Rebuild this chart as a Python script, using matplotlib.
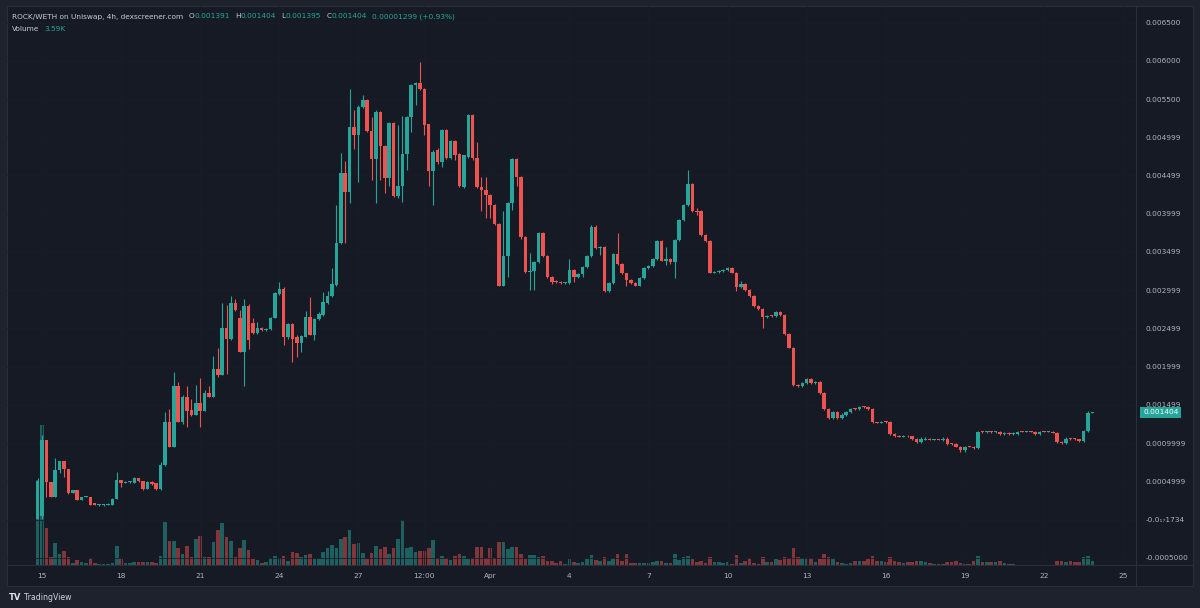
import matplotlib
matplotlib.use("Agg")
import matplotlib.pyplot as plt
import matplotlib.dates as mdates
import matplotlib.transforms as mtransforms
from matplotlib.patches import Rectangle
import numpy as np
import pandas as pd

# ROCK/WETH 4h candles, prices in millionths of WETH (1404 -> 0.001404)
first_candle = "2024-03-14 20:00"

opens = [
    13, 40, 1046, 497, 301, 654, 759, 667, 353, 392,
    249, 301, 301, 222, 196, 196, 196, 196, 262, 523,
    484, 497, 484, 549, 510, 405, 497, 484, 405, 719,
    1269, 955, 1740, 1269, 1609, 1426, 1373, 1530, 1413, 1661,
    1609, 1975, 1884, 2511, 2367, 2838, 2642, 2197, 2799, 2564,
    2446, 2511, 2485, 2498, 2642, 2956, 3021, 2381, 2551, 2381,
    2315, 2381, 2655, 2407, 2629, 2681, 2838, 2930, 3074, 3623,
    4539, 4290, 5140, 5036, 5402, 5481, 5088, 4722, 5337, 4892,
    4473, 5193, 4238, 4369, 4787, 5271, 5690, 5716, 5637, 5167,
    4565, 4827, 4670, 5101, 4735, 4957, 4787, 4343, 4748, 5297,
    4735, 4343, 4316, 4251, 4120, 3859, 3061, 3453, 4146, 4722,
    4486, 3689, 3244, 3257, 3362, 3754, 3453, 3178, 3126, 3113,
    3100, 3100, 3270, 3178, 3205, 3309, 3453, 3832, 3545, 3571,
    2995, 3100, 3479, 3348, 3218, 3139, 3100, 3061, 3165, 3296,
    3322, 3414, 3649, 3388, 3414, 3362, 3662, 3924, 4120, 4395,
    4029, 4042, 3728, 3649, 3231, 3244, 3257, 3270, 3296, 3231,
    3035, 3087, 3008, 2930, 2799, 2760, 2655, 2668, 2662, 2708,
    2681, 2433, 2250, 1753, 1740, 1792, 1844, 1792, 1805, 1661,
    1452, 1334, 1400, 1334, 1373, 1400, 1452, 1446, 1478, 1472,
    1452, 1269, 1265, 1282, 1275, 1125, 1086, 1082, 1092, 1086,
    1059, 1020, 1046, 1059, 1046, 1050, 1044, 1059, 994, 990,
    955, 903, 955, 950, 929, 1151, 1147, 1151, 1148, 1150,
    1125, 1135, 1125, 1125, 1151, 1150, 1152, 1150, 1125, 1151,
    1150, 1151, 1138, 1020, 1000, 1059, 1055, 1050, 1033, 1164,
    1391]

highs = [
    549, 1100, 1046, 497, 811, 759, 759, 667, 392, 392,
    301, 314, 301, 222, 209, 209, 222, 275, 615, 523,
    510, 510, 562, 549, 510, 510, 510, 484, 746, 1400,
    1452, 1936, 1805, 1635, 1740, 1570, 1766, 1857, 1700, 1740,
    2145, 2237, 2838, 2812, 2930, 2878, 2747, 2878, 2825, 2642,
    2590, 2524, 2511, 2655, 2982, 3113, 3035, 2564, 2577, 2407,
    2407, 2721, 2917, 2642, 2708, 2982, 2995, 3296, 4120, 4800,
    4683, 5637, 5363, 5428, 5559, 5494, 5271, 5363, 5350, 4905,
    5206, 5206, 5154, 5284, 5284, 5703, 5729, 5978, 5650, 5180,
    4827, 4866, 5114, 5114, 4970, 4970, 4800, 4774, 5310, 5310,
    4944, 4486, 4486, 4264, 4133, 3872, 4029, 4159, 4735, 4735,
    4499, 3702, 3492, 3375, 3767, 3767, 3466, 3191, 3139, 3126,
    3113, 3414, 3283, 3218, 3322, 3466, 3846, 3846, 3584, 3584,
    3113, 3492, 3754, 3361, 3231, 3152, 3113, 3178, 3309, 3335,
    3427, 3662, 3662, 3571, 3427, 3675, 3937, 4133, 4578, 4408,
    4081, 4055, 3741, 3662, 3257, 3270, 3283, 3309, 3309, 3244,
    3126, 3100, 3021, 2943, 2812, 2773, 2681, 2681, 2721, 2721,
    2694, 2446, 2263, 1779, 1805, 1857, 1857, 1818, 1818, 1674,
    1465, 1413, 1413, 1387, 1413, 1465, 1465, 1491, 1491, 1491,
    1465, 1282, 1295, 1295, 1290, 1138, 1099, 1099, 1099, 1092,
    1066, 1073, 1073, 1066, 1059, 1059, 1073, 1073, 1007, 1000,
    968, 968, 968, 960, 1164, 1164, 1164, 1164, 1160, 1160,
    1140, 1145, 1140, 1164, 1160, 1160, 1164, 1160, 1164, 1164,
    1164, 1164, 1151, 1033, 1073, 1070, 1066, 1059, 1177, 1413,
    1404]

lows = [
    13, 13, 301, 288, 301, 602, 562, 340, 353, 249,
    249, 288, 196, 196, 183, 183, 196, 196, 262, 419,
    484, 484, 484, 497, 392, 405, 445, 392, 392, 706,
    955, 955, 1269, 1243, 1216, 1360, 1373, 1216, 1413, 1596,
    1609, 1870, 1884, 1897, 2354, 2721, 2197, 1740, 2224, 2433,
    2433, 2472, 2472, 2485, 2642, 2943, 2289, 2367, 2054, 2132,
    2197, 2381, 2407, 2354, 2616, 2668, 2825, 2917, 3061, 3610,
    3623, 4146, 4840, 4421, 5389, 5075, 4447, 4146, 4447, 4277,
    4356, 4225, 4212, 4159, 4578, 5075, 5428, 5624, 5036, 4356,
    4120, 4656, 4617, 4722, 4722, 4709, 4343, 4330, 4735, 4709,
    4330, 4029, 3950, 3950, 3846, 3048, 3048, 3178, 4055, 4356,
    3675, 3231, 3008, 3008, 3349, 3440, 3165, 3087, 3100, 3087,
    3087, 3087, 3113, 3165, 3178, 3296, 3440, 3532, 3466, 2982,
    2982, 3087, 3335, 3205, 3048, 3087, 3048, 3048, 3152, 3283,
    3309, 3401, 3375, 3335, 3348, 3165, 3649, 3911, 4107, 4016,
    3989, 3715, 3636, 3218, 3218, 3231, 3244, 3257, 3218, 2995,
    3022, 2995, 2917, 2786, 2747, 2511, 2642, 2655, 2655, 2668,
    2420, 2237, 1740, 1727, 1727, 1779, 1779, 1779, 1648, 1439,
    1321, 1321, 1321, 1321, 1360, 1387, 1439, 1439, 1465, 1439,
    1256, 1256, 1256, 1256, 1112, 1073, 1073, 1073, 1073, 1046,
    1007, 1007, 1040, 1040, 1040, 1040, 1033, 981, 981, 942,
    889, 889, 942, 916, 916, 1138, 1138, 1138, 1138, 1112,
    1112, 1112, 1112, 1112, 1140, 1140, 1140, 1112, 1112, 1140,
    1140, 1130, 1007, 994, 994, 1046, 1040, 1020, 1020, 1151,
    1391]

closes = [
    510, 1046, 497, 301, 654, 759, 667, 353, 392, 249,
    301, 314, 196, 196, 196, 196, 209, 262, 523, 484,
    497, 497, 549, 510, 405, 497, 458, 405, 719, 1269,
    955, 1740, 1269, 1609, 1413, 1373, 1530, 1413, 1661, 1609,
    1975, 1884, 2511, 2367, 2838, 2747, 2197, 2799, 2354, 2446,
    2511, 2485, 2498, 2642, 2969, 3021, 2381, 2551, 2367, 2315,
    2394, 2655, 2420, 2629, 2694, 2851, 2930, 3087, 3623, 4539,
    4290, 5140, 5036, 5402, 5481, 5088, 4722, 5337, 4892, 4473,
    5193, 4238, 4369, 4787, 5271, 5690, 5716, 5637, 5154, 4565,
    4813, 4670, 5101, 4735, 4957, 4774, 4356, 4774, 5297, 4735,
    4343, 4316, 4251, 4120, 3859, 3061, 3453, 4146, 4722, 4486,
    3689, 3244, 3257, 3362, 3754, 3453, 3178, 3113, 3113, 3100,
    3110, 3270, 3178, 3205, 3309, 3453, 3832, 3545, 3571, 2995,
    3100, 3479, 3348, 3218, 3139, 3100, 3061, 3165, 3296, 3322,
    3414, 3649, 3388, 3414, 3362, 3662, 3924, 4120, 4395, 4029,
    4016, 3728, 3649, 3231, 3244, 3257, 3270, 3296, 3231, 3035,
    3087, 3008, 2930, 2799, 2760, 2655, 2668, 2662, 2708, 2681,
    2433, 2250, 1753, 1740, 1792, 1844, 1792, 1805, 1661, 1452,
    1334, 1400, 1334, 1373, 1400, 1452, 1446, 1478, 1472, 1452,
    1269, 1265, 1282, 1275, 1125, 1086, 1082, 1092, 1086, 1059,
    1020, 1059, 1059, 1046, 1050, 1044, 1059, 994, 990, 955,
    903, 955, 950, 929, 1151, 1147, 1151, 1148, 1150, 1125,
    1135, 1125, 1135, 1151, 1150, 1152, 1150, 1125, 1151, 1150,
    1151, 1138, 1020, 1000, 1059, 1055, 1050, 1033, 1164, 1391,
    1404]

# volume per candle, thousands
volume_k = [
    76.5, 126.0, 33.3, 7.2, 19.8, 9.9, 12.6, 7.2, 1.8, 4.5,
    2.7, 1.8, 6.3, 1.8, 0.9, 0.9, 0.9, 1.8, 17.1, 6.3,
    1.8, 1.8, 2.7, 2.7, 2.7, 2.7, 2.7, 1.8, 8.1, 38.7,
    21.6, 21.6, 15.3, 9.9, 17.1, 7.2, 23.4, 26.1, 7.2, 7.2,
    20.7, 31.5, 37.8, 25.2, 21.6, 7.2, 15.3, 22.5, 13.5, 5.4,
    4.5, 1.8, 2.7, 6.3, 8.1, 6.3, 8.1, 3.6, 11.7, 10.8,
    7.2, 9.0, 9.9, 5.4, 5.4, 11.7, 15.3, 18.0, 15.3, 23.4,
    25.2, 31.5, 18.9, 19.8, 10.8, 5.4, 10.8, 17.1, 14.4, 16.2,
    9.9, 15.3, 23.4, 40.5, 15.3, 16.2, 11.7, 12.6, 12.6, 15.3,
    22.5, 6.3, 8.1, 6.3, 4.5, 8.1, 9.9, 8.1, 5.4, 6.3,
    16.2, 16.2, 6.3, 15.3, 6.3, 20.7, 20.7, 14.4, 16.2, 16.2,
    9.9, 5.4, 9.0, 9.0, 7.2, 8.1, 3.6, 3.6, 1.8, 3.6,
    0.9, 5.4, 2.7, 1.8, 2.7, 5.4, 9.0, 4.5, 3.6, 7.2,
    3.6, 6.3, 9.9, 3.6, 9.9, 1.8, 1.8, 1.8, 1.8, 1.8,
    2.7, 3.6, 3.6, 1.8, 1.8, 9.9, 4.5, 7.2, 8.1, 5.4,
    2.7, 3.6, 1.8, 7.2, 2.7, 2.7, 1.8, 2.7, 0.9, 9.0,
    1.8, 3.6, 6.3, 1.8, 0.9, 7.2, 2.7, 2.7, 5.4, 4.5,
    7.2, 6.3, 15.3, 7.2, 6.3, 6.3, 6.3, 2.7, 5.4, 9.9,
    7.2, 5.4, 2.7, 1.8, 0.9, 1.8, 3.6, 3.6, 3.6, 5.4,
    8.1, 3.6, 3.6, 2.7, 7.2, 3.6, 2.7, 1.8, 2.7, 2.7,
    3.6, 3.6, 2.7, 1.8, 0.9, 0.9, 0.9, 2.7, 2.7, 3.6,
    1.8, 0.9, 0.9, 3.6, 8.1, 2.7, 2.7, 2.7, 2.7, 3.6,
    1.8, 0.9, 0.9, 0.45, 0.45, 0.45, 0.45, 0.45, 0.45, 0.45,
    0.45, 0.45, 3.6, 3.6, 2.7, 3.6, 2.7, 2.7, 7.2, 8.1,
    3.59]

price_ticks = [0.0065, 0.006, 0.0055, 0.005, 0.0045, 0.004, 0.0035, 0.003,
               0.0025, 0.002, 0.0015, 0.001, 0.0005, 0.0, -0.0005]
price_labels = ["0.006500", "0.006000", "0.005500", "0.004999", "0.004499",
                "0.003999", "0.003499", "0.002999", "0.002499", "0.001999",
                "0.001499", "0.0009999", "0.0004999", "-0.0\u2081\u20871734",
                "-0.0005000"]
date_ticks = ["2024-03-15 00:00", "2024-03-18 00:00", "2024-03-21 00:00",
              "2024-03-24 00:00", "2024-03-27 00:00", "2024-03-29 12:00",
              "2024-04-01 00:00", "2024-04-04 00:00", "2024-04-07 00:00",
              "2024-04-10 00:00", "2024-04-13 00:00", "2024-04-16 00:00",
              "2024-04-19 00:00", "2024-04-22 00:00", "2024-04-25 00:00"]
date_labels = ["15", "18", "21", "24", "27", "12:00", "Apr", "4", "7", "10",
               "13", "16", "19", "22", "25"]

# colours
BG = "#161a25"
OUTER = "#1e222d"
LINE = "#2a2e39"
TXT = "#b2b5be"
UP = "#26a69a"
DOWN = "#ef5350"

times = pd.date_range(first_candle, periods=len(closes), freq="4h")
x = mdates.date2num(times)
o = np.array(opens) / 1e6
h = np.array(highs) / 1e6
l = np.array(lows) / 1e6
c = np.array(closes) / 1e6
vol = np.array(volume_k)
up = c >= o
col = np.where(up, UP, DOWN)

W, H = 1200, 608
fig = plt.figure(figsize=(W / 100, H / 100), dpi=100, facecolor=OUTER)

def box(x0, y0, x1, y1):
    # pixel box (top-left origin) -> figure fraction rect
    return [x0 / W, 1 - y1 / H, (x1 - x0) / W, (y1 - y0) / H]

# whole panel background incl. price and time scales
fig.patches.append(Rectangle((7 / W, 1 - 586 / H), 1186 / W, 580 / H,
                             transform=fig.transFigure, facecolor=BG,
                             edgecolor=LINE, linewidth=0.8, zorder=-5))

vax = fig.add_axes(box(7, 6, 1136, 565))
ax = fig.add_axes(box(7, 6, 1136, 565), sharex=vax)
vax.set_facecolor("none")
ax.set_facecolor("none")
ax.set_zorder(vax.get_zorder() + 1)

# volume underlay
vax.bar(x, vol, width=0.82 / 6, color=col, alpha=0.5, linewidth=0)
vax.set_ylim(0, vol.max() * 4.0)
vax.axis("off")

# candles
ax.vlines(x, l, h, colors=col, linewidth=0.8)
body_low = np.minimum(o, c)
body_h = np.maximum(np.abs(c - o), 0.000012)
ax.bar(x, body_h, bottom=body_low, width=0.8 / 6, color=col, linewidth=0)

d0 = mdates.date2num(pd.Timestamp("2024-03-15"))
ax.set_xlim(d0 - 1.327, d0 + 41.49)
ax.set_ylim(-0.000595, 0.006717)

for s in ax.spines.values():
    s.set_visible(False)
ax.grid(True, color="#191d28", linewidth=0.6)
ax.set_axisbelow(True)

ax.yaxis.tick_right()
ax.set_yticks(price_ticks)
ax.set_yticklabels(price_labels)
ax.tick_params(axis="y", length=0, pad=7, labelsize=5.3, labelcolor=TXT)
ax.set_xticks(mdates.date2num(pd.to_datetime(date_ticks, format="%Y-%m-%d %H:%M")))
ax.set_xticklabels(date_labels)
ax.tick_params(axis="x", length=0, pad=6, labelsize=5.3, labelcolor=TXT)

# scale separators
fig.add_artist(plt.Line2D([1136 / W, 1136 / W], [1 - 586 / H, 1 - 6 / H],
                          transform=fig.transFigure, color=LINE, lw=0.8))
fig.add_artist(plt.Line2D([7 / W, 1193 / W], [1 - 565 / H, 1 - 565 / H],
                          transform=fig.transFigure, color=LINE, lw=0.8))

# last price tag
tr = mtransforms.blended_transform_factory(fig.transFigure, ax.transData)
ax.text(1143 / W, c[-1], "0.001404", transform=tr, fontsize=5.3,
        color="white", va="center", ha="left", clip_on=False,
        bbox=dict(boxstyle="square,pad=0.35", fc=UP, ec="none"))

# header legend, segments chained left to right
renderer = fig.canvas.get_renderer()

def chain(parts, x0, y0):
    xp = x0
    for text, color, gap in parts:
        t = fig.text(xp / W, 1 - y0 / H, text, color=color, fontsize=5.3,
                     va="center", ha="left")
        bb = t.get_window_extent(renderer)
        xp = bb.x1 + gap

chain([("ROCK/WETH on Uniswap, 4h, dexscreener.com", "#c8cbd2", 5),
       ("O", "#c8cbd2", 0.5), ("0.001391", UP, 5),
       ("H", "#c8cbd2", 0.5), ("0.001404", UP, 5),
       ("L", "#c8cbd2", 0.5), ("0.001395", UP, 5),
       ("C", "#c8cbd2", 0.5), ("0.001404", UP, 5),
       ("0.00001299 (+0.93%)", UP, 0)], 12, 16.5)
chain([("Volume", "#c8cbd2", 5), ("3.59K", UP, 0)], 12, 29)

# TradingView mark
fig.text(9 / W, 1 - 597 / H, "TV", color="#e0e3eb", fontsize=6,
         fontweight="bold", va="center", ha="left")
fig.text(24 / W, 1 - 597 / H, "TradingView", color="#d1d4dc", fontsize=5.6,
         va="center", ha="left")

fig.savefig("out.png", dpi=100, facecolor=OUTER)
